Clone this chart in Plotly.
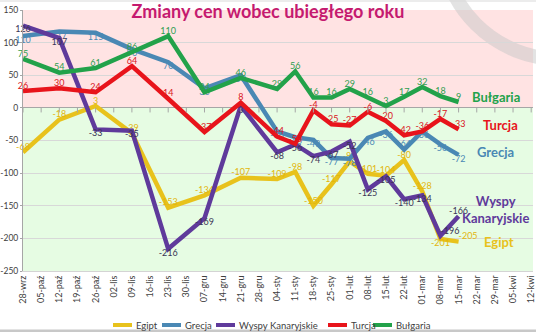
import plotly.graph_objects as go

categories = ["28-wrz", "05-paź", "12-paź", "19-paź", "26-paź", "02-lis", "09-lis", "16-lis",
              "23-lis", "30-lis", "07-gru", "14-gru", "21-gru", "28-gru", "04-sty", "11-sty",
              "18-sty", "25-sty", "01-lut", "08-lut", "15-lut", "22-lut", "01-mar", "08-mar",
              "15-mar", "22-mar", "29-mar", "05-kwi", "12-kwi"]

N = None
egipt = [-68, N, -18, N, 3, N, -39, N, -153, N, -134, N, -107, N, -109, -98, -150, -117, -82,
         -101, -104, -80, -128, -201, -205, N, N, N, N]
grecja = [110, N, 117, N, 115, N, 90, N, 70, N, 30, N, 50, N, -36, -45, -49, -77, -78,
          -46, -36, -64, -36, -56, -72, N, N, N, N]
wyspy = [126, N, 107, N, -33, N, -35, N, -216, N, -169, N, 3, N, -68, -56, -74, -67, -52,
         -125, -105, -140, -134, -196, -166, N, N, N, N]
turcja = [26, N, 30, N, 24, N, 64, N, 14, N, -37, N, 8, N, -44, -55, -4, -25, -27,
          -6, -20, -42, -36, -17, -33, N, N, N, N]
bulgaria = [75, N, 54, N, 61, N, 86, N, 110, N, 24, N, 46, N, 29, 56, 16, 16, 29,
            16, 3, 17, 32, 18, 9, N, N, N, N]

y_ticks = list(range(-250, 151, 50))

W, H = 536, 332
ML, MR, MT, MB = 23, 3, 10, 61
PW, PH = W - ML - MR, H - MT - MB
FONT = "Lato"


def px_x(p):
    return (p - ML) / PW


def px_y(p):
    return (H - MB - p) / PH


def labels(vals):
    return [str(v) if v is not None else "" for v in vals]


def positions(vals, default, overrides=None):
    pos = [default] * len(vals)
    for k, v in (overrides or {}).items():
        pos[k] = v
    return pos


series = [
    ("Egipt", egipt, "#E8C21C", "#E2B60C", positions(egipt, "top center", {23: "bottom center", 24: "top right"})),
    ("Grecja", grecja, "#4A88B4", "#4A88B4", positions(grecja, "bottom center", {21: "top center"})),
    ("Wyspy Kanaryjskie", wyspy, "#5F3A9B", "#3A3456", positions(wyspy, "bottom center", {23: "top right", 24: "top center"})),
    ("Turcja", turcja, "#E8141B", "#D9141B", positions(turcja, "top center")),
    ("Bułgaria", bulgaria, "#22A24A", "#2E9E50", positions(bulgaria, "top center")),
]
legend_px = [113, 162, 216, 328, 373]

fig = go.Figure()
for name, vals, col, tcol, tpos in series:
    fig.add_trace(go.Scatter(
        x=categories, y=vals, name=name, mode="lines+text",
        connectgaps=True, showlegend=False,
        line=dict(color=col, width=4.5),
        text=labels(vals), textposition=tpos,
        textfont=dict(family=FONT, size=9, color=tcol),
        cliponaxis=False, hoverinfo="skip",
    ))

shapes = [
    dict(type="rect", xref="paper", yref="y", x0=0, x1=1, y0=0, y1=150,
         fillcolor="#FFE3E3", line=dict(width=0), layer="below"),
    dict(type="rect", xref="paper", yref="y", x0=0, x1=1, y0=-250, y1=0,
         fillcolor="#E6FCE3", line=dict(width=0), layer="below"),
    # watermark ring
    dict(type="circle", xref="paper", yref="paper",
         x0=px_x(560 - 119), x1=px_x(560 + 119), y0=px_y(-60 + 119), y1=px_y(-60 - 119),
         line=dict(color="rgba(200,200,200,0.5)", width=14), fillcolor="rgba(0,0,0,0)",
         layer="below"),
    # frame lines
    dict(type="line", xref="paper", yref="paper", x0=px_x(0), x1=px_x(W), y0=px_y(1), y1=px_y(1),
         line=dict(color="#D9D9D9", width=1)),
    dict(type="line", xref="paper", yref="paper", x0=px_x(0), x1=px_x(W), y0=px_y(331), y1=px_y(331),
         line=dict(color="#C8C8C8", width=3)),
]
for c in categories:
    shapes.append(dict(type="line", xref="x", yref="y", x0=c, x1=c, y0=-7, y1=0,
                       line=dict(color="#A6A6A6", width=1)))

ann_font = dict(family=FONT, size=13)
annotations = [
    dict(x=26.06, y=17, text="<b>Bułgaria</b>", font=dict(**ann_font, color="#22A24A")),
    dict(x=26.3, y=-27, text="<b>Turcja</b>", font=dict(**ann_font, color="#E8141B")),
    dict(x=26.06, y=-67, text="<b>Grecja</b>", font=dict(**ann_font, color="#4A88B4")),
    dict(x=26.06, y=-156, text="<b>Wyspy<br>Kanaryjskie</b>", font=dict(**ann_font, color="#5F3A9B")),
    dict(x=26.2, y=-206, text="<b>Egipt</b>", font=dict(**ann_font, color="#E8C21C")),
]
for a in annotations:
    a.update(xref="x", yref="y", showarrow=False, xanchor="center", yanchor="middle", align="center")

# custom legend
LEG_Y = 325
for (name, vals, col, tcol, tpos), lx in zip(series, legend_px):
    shapes.append(dict(type="line", xref="paper", yref="paper",
                       x0=px_x(lx), x1=px_x(lx + 19), y0=px_y(LEG_Y), y1=px_y(LEG_Y),
                       line=dict(color=col, width=4)))
    annotations.append(dict(xref="paper", yref="paper", x=px_x(lx + 21), y=px_y(LEG_Y),
                            text=name, showarrow=False, xanchor="left", yanchor="middle",
                            font=dict(family=FONT, size=9.5, color="#404040")))

fig.update_layout(
    width=W, height=H,
    margin=dict(l=ML, r=MR, t=MT, b=MB),
    paper_bgcolor="white", plot_bgcolor="rgba(0,0,0,0)",
    font=dict(family=FONT, color="#404040"),
    showlegend=False,
    title=dict(text="<b>Zmiany cen wobec ubiegłego roku</b>",
               font=dict(family=FONT, size=18, color="#C51A6F"),
               x=0.5, xref="container", xanchor="center",
               y=1 - 12 / H, yref="container", yanchor="middle"),
    xaxis=dict(type="category", categoryorder="array", categoryarray=categories,
               range=[0, 28.1], tickangle=-90, tickfont=dict(size=9, color="#404040"),
               showgrid=False, showline=True, linecolor="#D4D4D4", ticks="",
               automargin=False, zeroline=False),
    yaxis=dict(range=[-250, 150], tickvals=y_ticks, ticktext=[str(v) for v in y_ticks],
               tickfont=dict(size=8.5, color="#404040"), showgrid=True, gridcolor="#D8D8D8",
               zeroline=True, zerolinecolor="#A6A6A6", zerolinewidth=1,
               showline=True, linecolor="#A6A6A6", ticks="outside", ticklen=2,
               tickcolor="#A6A6A6", automargin=False),
    shapes=shapes,
    annotations=annotations,
)

fig.write_html("out.html")
